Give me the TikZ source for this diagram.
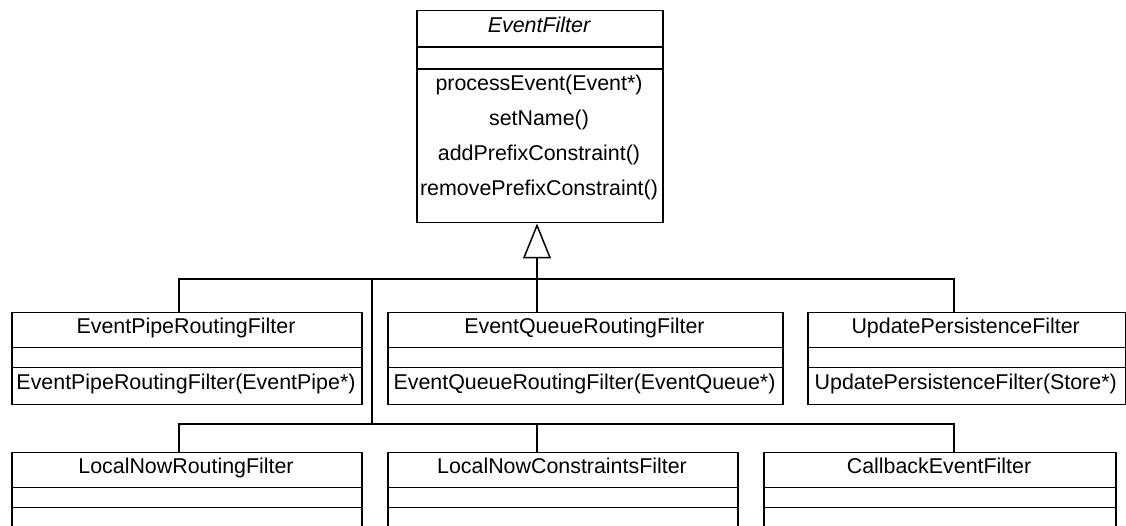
\documentclass[tikz,border=0pt]{standalone}
\usepackage{fontspec}
\setmainfont{Liberation Sans}
\usetikzlibrary{arrows.meta}
\begin{document}
\begin{tikzpicture}[x=1pt,y=-1pt,
  cls/.style={draw, line width=1.5pt, inner sep=0pt, anchor=north west, fill=white},
  lbl/.style={anchor=base, inner sep=0pt, font=\fontsize{21.4}{25}\selectfont},
  ln/.style={line width=1.5pt},
  inh/.style={line width=1.5pt, -{Triangle[open, length=35pt, width=28pt, line width=1.5pt]}}]
\useasboundingbox (0,0) rectangle (1126,526);
\clip (0,0) rectangle (1126,526);
% bus coordinates
\coordinate (busL) at (179,279);
\coordinate (busR) at (954,279);
\coordinate (j1) at (537,279);
\coordinate (bus2L) at (179,424);
\coordinate (bus2R) at (954,424);
\coordinate (trunk) at (372,424);
% EventFilter
\node[cls, minimum width=246pt, minimum height=212pt] (ef) at (416,10) {};
\draw[ln] (416,47) -- (662,47);
\draw[ln] (416,69) -- (662,69);
\node[lbl] (eft) at (539,32.5) {\itshape EventFilter};
\node[lbl] (efm1) at (539,91) {processEvent(Event*)};
\node[lbl] (efm2) at (539,126) {setName()};
\node[lbl] (efm3) at (539,161) {addPrefixConstraint()};
\node[lbl] (efm4) at (539,196) {removePrefixConstraint()};
% Row 1
\node[cls, minimum width=350pt, minimum height=91.5pt] (eprf) at (11,312) {};
\draw[ln] (11,347.3) -- (361,347.3);
\draw[ln] (11,367.3) -- (361,367.3);
\node[lbl] (eprft) at (186,333.5) {EventPipeRoutingFilter};
\node[lbl] (eprfm) at (186,389.3) {EventPipeRoutingFilter(EventPipe*)};
\node[cls, minimum width=395pt, minimum height=91.5pt] (eqrf) at (387,312) {};
\draw[ln] (387,347.3) -- (782,347.3);
\draw[ln] (387,367.3) -- (782,367.3);
\node[lbl] (eqrft) at (584.5,333.5) {EventQueueRoutingFilter};
\node[lbl] (eqrfm) at (584.5,389.3) {EventQueueRoutingFilter(EventQueue*)};
\node[cls, minimum width=317.5pt, minimum height=91.5pt] (upf) at (807,312) {};
\draw[ln] (807,347.3) -- (1124.5,347.3);
\draw[ln] (807,367.3) -- (1124.5,367.3);
\node[lbl] (upft) at (965.7,333.5) {UpdatePersistenceFilter};
\node[lbl] (upfm) at (965.7,389.3) {UpdatePersistenceFilter(Store*)};
% Row 2
\node[cls, minimum width=350pt, minimum height=100pt] (lnrf) at (11,451.5) {};
\draw[ln] (11,487.3) -- (361,487.3);
\draw[ln] (11,507.5) -- (361,507.5);
\node[lbl] (lnrft) at (186,473.5) {LocalNowRoutingFilter};
\node[cls, minimum width=350pt, minimum height=100pt] (lncf) at (387,451.5) {};
\draw[ln] (387,487.3) -- (737,487.3);
\draw[ln] (387,507.5) -- (737,507.5);
\node[lbl] (lncft) at (562,473.5) {LocalNowConstraintsFilter};
\node[cls, minimum width=352pt, minimum height=100pt] (cef) at (763,451.5) {};
\draw[ln] (763,487.3) -- (1115,487.3);
\draw[ln] (763,507.5) -- (1115,507.5);
\node[lbl] (ceft) at (939,473.5) {CallbackEventFilter};
% connectors
\draw[inh] (j1 |- eqrf.north) -- (j1 |- ef.south);
\draw[ln] (busL |- eprf.north) -- (busL) -- (busR) -- (busR |- upf.north);
\draw[ln] (trunk |- busL) -- (trunk);
\draw[ln] (bus2L |- lnrf.north) -- (bus2L) -- (bus2R) -- (bus2R |- cef.north);
\draw[ln] (j1 |- bus2L) -- (j1 |- lncf.north);
\end{tikzpicture}
\end{document}
